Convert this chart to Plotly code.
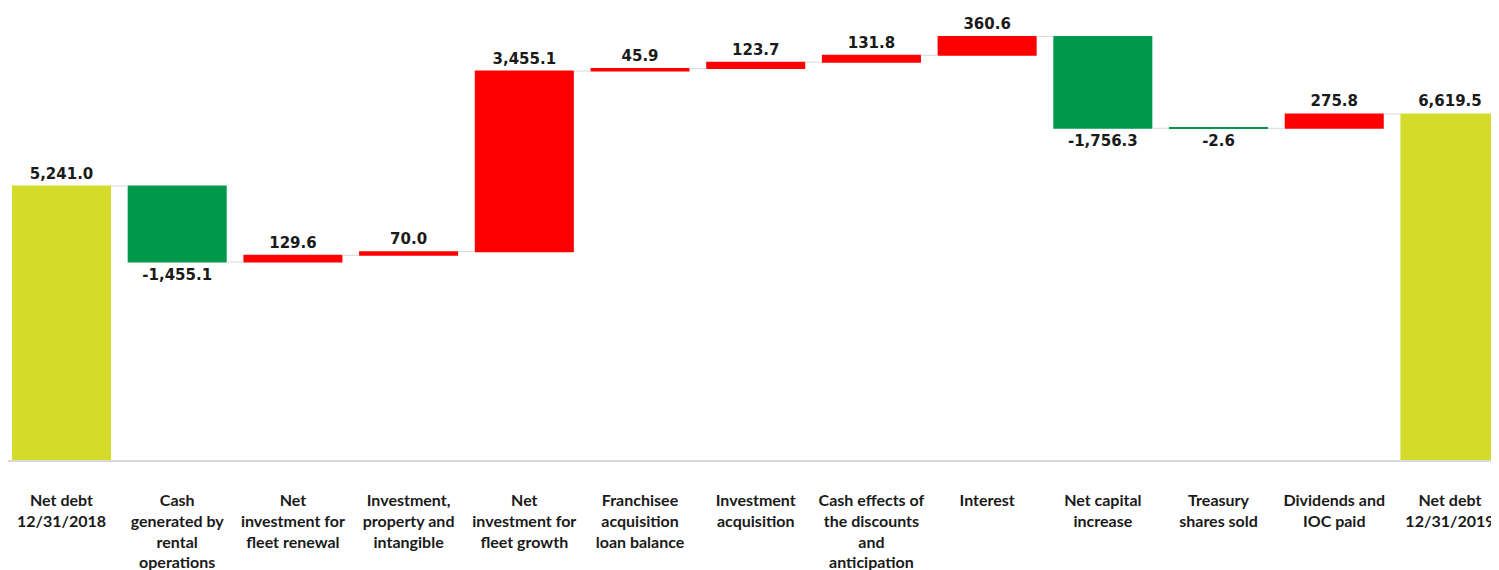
import plotly.graph_objects as go

categories = [
    "Net debt<br>12/31/2018",
    "Cash<br>generated by<br>rental<br>operations",
    "Net<br>investment for<br>fleet renewal",
    "Investment,<br>property and<br>intangible",
    "Net<br>investment for<br>fleet growth",
    "Franchisee<br>acquisition<br>loan balance",
    "Investment<br>acquisition",
    "Cash effects of<br>the discounts<br>and<br>anticipation",
    "Interest",
    "Net capital<br>increase",
    "Treasury<br>shares sold",
    "Dividends and<br>IOC paid",
    "Net debt<br>12/31/2019",
]
values = [5241.0, -1455.1, 129.6, 70.0, 3455.1, 45.9, 123.7, 131.8, 360.6, -1756.3, -2.6, 275.8, 6619.5]
measures = ["absolute"] + ["relative"] * 11 + ["total"]

labels = [f"{v:,.1f}" for v in values]

fig = go.Figure(go.Waterfall(
    x=list(range(len(categories))),
    y=values,
    measure=measures,
    text=labels,
    textposition="outside",
    textfont=dict(family="DejaVu Sans", size=15, color="#1a1a1a", weight="bold"),
    cliponaxis=False,
    increasing=dict(marker=dict(color="#FF0000")),
    decreasing=dict(marker=dict(color="#00994C")),
    totals=dict(marker=dict(color="#D4DB2A")),
    connector=dict(line=dict(color="#d9d9d9", width=1)),
    hoverinfo="skip",
))

fig.update_layout(
    width=1499, height=562,
    margin=dict(l=0, r=8, t=0, b=110, autoexpand=False),
    paper_bgcolor="white", plot_bgcolor="white",
    showlegend=False,
    waterfallgap=0.144,
    xaxis=dict(
        tickmode="array",
        tickvals=list(range(len(categories))),
        ticktext=categories,
        range=[-0.4624, 12.424],
        automargin=False,
        showgrid=False, zeroline=False,
        showline=True, linecolor="#d9d9d9", linewidth=1.5,
        ticks="", ticklabelstandoff=25,
        tickfont=dict(family="Lato", size=16, color="#1a1a1a", weight="bold"),
    ),
    yaxis=dict(range=[0, 8646], visible=False, showgrid=False, zeroline=False, automargin=False),
)

fig.write_html("out.html")
